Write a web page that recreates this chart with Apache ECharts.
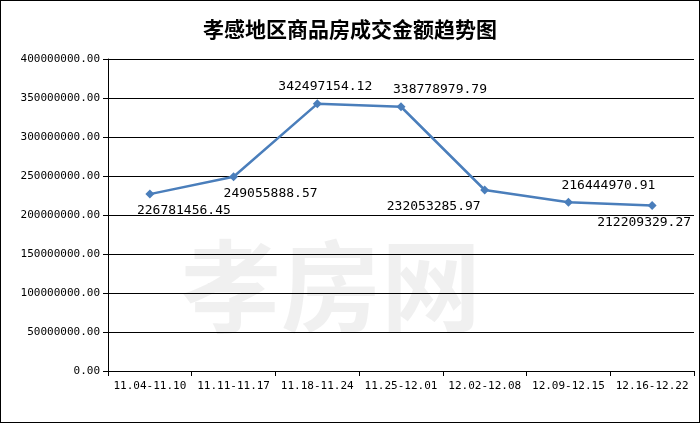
<!DOCTYPE html>
<html><head><meta charset="utf-8">
<script src="https://cdn.jsdelivr.net/npm/echarts@6/dist/echarts.min.js"></script>
<style>html,body{margin:0;padding:0;background:#fff}#c{width:700px;height:423px;box-sizing:border-box;border:1px solid #000}</style>
</head><body><div id="c"></div>
<script>
const categories=["11.04-11.10","11.11-11.17","11.18-11.24","11.25-12.01","12.02-12.08","12.09-12.15","12.16-12.22"];
const values=[226781456.45,249055888.57,342497154.12,338778979.79,232053285.97,216444970.91,212209329.27];
const labelPos=["bottom","bottom","top","top","bottom","top","bottom"];
const labelShift=[34,37,8,39,-51,40,-8];
const chart=echarts.init(document.getElementById('c'));
const mono='"DejaVu Sans Mono","Liberation Mono",monospace';
chart.setOption({
  animation:false,
  title:{text:"孝感地区商品房成交金额趋势图",left:'center',top:13,textStyle:{fontFamily:'"Noto Sans CJK SC"',fontSize:21,fontWeight:'bold',color:'#000'}},
  graphic:[{type:'text',left:180,top:235,z:0,style:{text:'孝房网',fontSize:100,fontWeight:'bold',fontFamily:'"Noto Sans CJK SC"',fill:'rgba(0,0,0,0.06)'}}],
  grid:{left:107,right:5,top:58,bottom:51},
  xAxis:{type:'category',data:categories,boundaryGap:true,
    axisLine:{lineStyle:{color:'#000'}},axisTick:{show:true,length:5,lineStyle:{color:'#000'}},
    axisLabel:{color:'#000',fontFamily:mono,fontSize:11,margin:10,interval:0}},
  yAxis:{type:'value',min:0,max:400000000,interval:50000000,
    axisLine:{show:true,lineStyle:{color:'#000'}},axisTick:{show:true,length:5,lineStyle:{color:'#000'}},
    splitLine:{lineStyle:{color:'#000'}},
    axisLabel:{color:'#000',fontFamily:mono,fontSize:11,formatter:v=>v.toFixed(2)}},
  series:[{type:'line',data:values.map((v,i)=>({value:v,label:{position:labelPos[i],offset:[labelShift[i],0]}})),
    symbol:'diamond',symbolSize:9,itemStyle:{color:'#4a7ebb'},lineStyle:{color:'#4a7ebb',width:2.5},
    label:{show:true,color:'#000',fontFamily:mono,fontSize:13,distance:6,formatter:p=>p.value.toFixed(2)}}]
});
</script></body></html>
